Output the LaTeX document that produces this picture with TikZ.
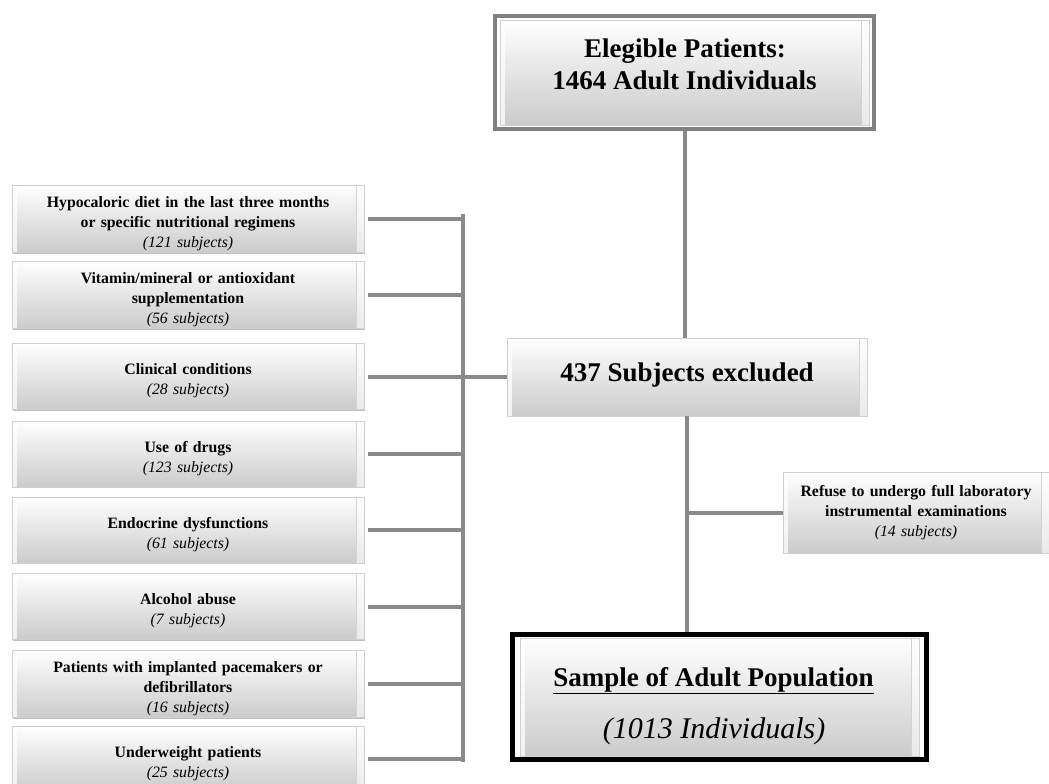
\documentclass[tikz,border=0pt]{standalone}
\usepackage{fontspec}
\setmainfont{Liberation Serif}
\usetikzlibrary{fit,shadows}
\definecolor{conn}{HTML}{8A8A8A}
\definecolor{boxedge}{HTML}{D0D0D0}
\definecolor{boxbot}{HTML}{CBCBCB}
\definecolor{framegray}{HTML}{808080}
\tikzset{
  bevel/.style={rectangle, draw=boxedge, line width=0.6pt, top color=white, bottom color=boxbot,
    inner sep=2pt, align=center,
    drop shadow={shadow xshift=1.2pt, shadow yshift=-1.2pt, opacity=0.25, fill=black},
    path picture={
      \fill[white,opacity=0.75] (path picture bounding box.north west) rectangle ([xshift=5pt]path picture bounding box.south west);
      \fill[white,opacity=0.6] ([xshift=-8pt]path picture bounding box.north east) rectangle (path picture bounding box.south east);
      \draw[gray!35,line width=0.8pt] ([xshift=-8pt]path picture bounding box.north east) -- ([xshift=-8pt]path picture bounding box.south east);
    }},
  smallbox/.style={bevel, font=\fontsize{15.8}{20}\selectfont\bfseries, text width=340pt,
    minimum width=352pt, minimum height=66pt},
  leftbox/.style={smallbox, execute at begin node={\rule{0pt}{20pt}}},
  conn/.style={draw=conn, line width=4pt},
  bigtxt/.style={font=\fontsize{27}{31}\selectfont\bfseries, anchor=base, inner sep=0pt}
}
\newcommand{\subjs}[1]{{\mdseries\itshape (#1 subjects)}}
\begin{document}
\begin{tikzpicture}[x=1pt,y=1pt]
\useasboundingbox (0,0) rectangle (1049,-784);
\clip (0,0) rectangle (1049,-784);
\fill[white] (0,0) rectangle (1049,-784);

% top box
\node[bevel, minimum width=369pt, minimum height=105pt] (top) at (684.5,-72.5) {};
\node[draw=framegray, line width=4pt, fit=(top), inner xsep=4.5pt, inner ysep=3.5pt] (topframe) {};
\node[bigtxt] (t1) at (685,-58) {Elegible Patients:};
\node[bigtxt] (t2) at (684.5,-89) {1464 Adult Individuals};

% excluded box
\node[bevel, minimum width=360pt, minimum height=78pt] (excl) at (687,-377) {};
\node[bigtxt] (extext) at (687,-381) {437 Subjects excluded};

% left boxes
\node[leftbox] (b1) at (188,-219) {Hypocaloric diet in the last three months\\or specific nutritional regimens\\\subjs{121}};
\node[leftbox] (b2) at (188,-295) {Vitamin/mineral or antioxidant\\supplementation\\\subjs{56}};
\node[leftbox] (b3) at (188,-376.5) {Clinical conditions\\\subjs{28}};
\node[leftbox] (b4) at (188,-454) {Use of drugs\\\subjs{123}};
\node[leftbox] (b5) at (188,-530) {Endocrine dysfunctions\\\subjs{61}};
\node[leftbox] (b6) at (188,-606.5) {Alcohol abuse\\\subjs{7}};
\node[leftbox] (b7) at (188,-684) {Patients with implanted pacemakers or\\defibrillators\\\subjs{16}};
\node[leftbox] (b8) at (188,-759) {Underweight patients\\\subjs{25}};

% refuse box
\node[smallbox, minimum width=266pt, text width=258pt, minimum height=81pt] (ref) at (916,-512.5) {Refuse to undergo full laboratory\\instrumental examinations\\\subjs{14}};

% sample box
\node[bevel, minimum width=399pt, minimum height=118pt] (samp) at (719.5,-697) {};
\node[draw=black, line width=5pt, fit=(samp), inner xsep=7pt, inner ysep=3.5pt] (sframe) {};
\node[bigtxt] (s1) at (713.5,-686) {\underline{Sample of Adult Population}};
\node[font=\fontsize{30}{34}\selectfont\itshape, anchor=base, inner sep=0pt] (s2) at (714,-738) {(1013 Individuals)};

% bus
\coordinate (busT) at (463,-216);
\coordinate (busB) at (463,-760);
\draw[conn] (463,-214) -- (463,-762);
\foreach \b in {b1,b2,b3,b4,b5,b6,b7,b8}{
  \draw[conn] ([xshift=4pt]\b.east) -- (\b.east -| busT);
}
\draw[conn] (excl.west) -- (excl.west -| busT);
\draw[conn] (topframe.south) -- (topframe.south |- excl.north);
\draw[conn] (excl.south) -- (excl.south |- sframe.north);
\draw[conn] (ref.west) -- (ref.west -| excl.south);
\end{tikzpicture}
\end{document}
